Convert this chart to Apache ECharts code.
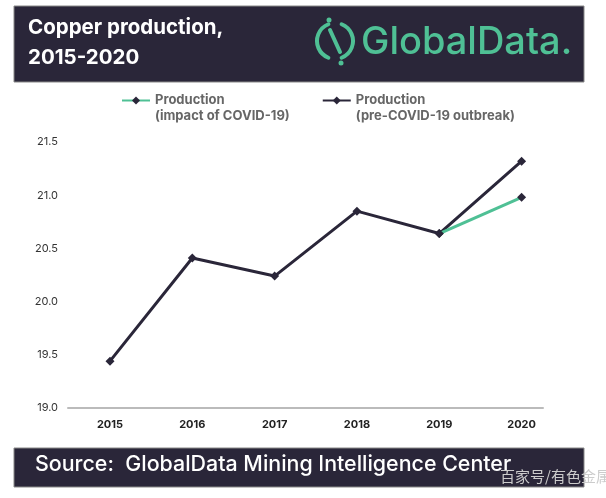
<!DOCTYPE html>
<html>
<head>
<meta charset="utf-8">
<script src="https://cdn.jsdelivr.net/npm/echarts@6/dist/echarts.min.js"></script>
<style>
  html, body { margin: 0; padding: 0; background: #fff; }
  #chart { width: 606px; height: 498px; }
</style>
</head>
<body>
<div id="chart"></div>
<script>
// copper production, million tonnes
var years = [2015, 2016, 2017, 2018, 2019, 2020];
var preCovid = [19.44, 20.41, 20.24, 20.85, 20.64, 21.32];
var covidImpact = [null, null, null, null, 20.64, 20.98];
var yTicks = [19.0, 19.5, 20.0, 20.5, 21.0, 21.5];

var dark = '#2a2639';
var green = '#4fc095';

function pairs(vals) {
  return years.map(function (y, i) { return [y, vals[i]]; });
}

var chart = echarts.init(document.getElementById('chart'));
chart.setOption({
  backgroundColor: '#fff',
  animation: false,
  textStyle: { fontFamily: 'Inter, Roboto, sans-serif' },
  legend: {
    left: 116,
    top: 73,
    itemGap: 32,
    itemWidth: 28,
    itemHeight: 10,
    textStyle: {
      color: '#666', fontSize: 13, fontWeight: 'bold',
      rich: {
        e: { fontSize: 13, lineHeight: 16 },
        a: { color: '#666', fontSize: 13, fontWeight: 'bold', lineHeight: 16 }
      }
    },
    // blank line on top keeps the marker level with "Production"
    formatter: function (name) {
      var p = name.split('\n');
      return '{e| }\n{a|' + p[0] + '}\n{a|' + p[1] + '}';
    },
    data: ['Production\n(impact of COVID-19)', 'Production\n(pre-COVID-19 outbreak)']
  },
  grid: { left: 68, right: 63, top: 142, bottom: 90 },
  xAxis: {
    type: 'value',
    min: 2014.49,
    max: 2020.26,
    splitLine: { show: false },
    axisLine: { show: true, lineStyle: { color: '#bbb', width: 2 } },
    axisTick: { show: false },
    axisLabel: {
      customValues: years,
      color: '#222',
      fontSize: 11,
      fontWeight: 'bold',
      margin: 11,
      formatter: function (v) { return String(v); }
    }
  },
  yAxis: {
    type: 'value',
    min: 19,
    max: 21.5,
    interval: 0.5,
    splitLine: { show: false },
    axisLine: { show: false },
    axisTick: { show: false },
    axisLabel: {
      color: '#333',
      fontSize: 11,
      margin: 10,
      formatter: function (v) { return v.toFixed(1); }
    }
  },
  series: [
    {
      name: 'Production\n(impact of COVID-19)',
      type: 'line',
      data: pairs(covidImpact),
      symbol: 'diamond',
      symbolSize: 9,
      z: 3,
      lineStyle: { color: green, width: 3 },
      itemStyle: { color: dark }
    },
    {
      name: 'Production\n(pre-COVID-19 outbreak)',
      type: 'line',
      data: pairs(preCovid),
      symbol: 'diamond',
      symbolSize: 9,
      z: 2,
      lineStyle: { color: dark, width: 3 },
      itemStyle: { color: dark }
    }
  ],
  graphic: [
    // header band
    { type: 'rect', shape: { x: 14, y: 6, width: 570, height: 76 },
      style: { fill: dark, stroke: '#888', lineWidth: 1 } },
    { type: 'text', left: 28, top: 13,
      style: { text: 'Copper production,\n2015-2020', fill: '#fff', font: 'bold 20.5px Inter, sans-serif', lineHeight: 30 } },
    // logo mark
    { type: 'arc', shape: { cx: 335, cy: 41, r: 18, startAngle: Math.PI * 0.62, endAngle: Math.PI * 1.38 },
      style: { stroke: green, fill: null, lineWidth: 4, lineCap: 'round' } },
    { type: 'arc', shape: { cx: 335, cy: 41, r: 18, startAngle: Math.PI * 1.62, endAngle: Math.PI * 2.38 },
      style: { stroke: green, fill: null, lineWidth: 4, lineCap: 'round' } },
    { type: 'line', shape: { x1: 330, y1: 30, x2: 340, y2: 52 },
      style: { stroke: green, lineWidth: 4, lineCap: 'round' } },
    { type: 'circle', shape: { cx: 329, cy: 20, r: 2.5 }, style: { fill: green } },
    { type: 'circle', shape: { cx: 341, cy: 63, r: 2.5 }, style: { fill: green } },
    { type: 'text', left: 361, top: 24,
      style: { text: 'GlobalData.', fill: green, font: '500 38px Inter, sans-serif' } },
    // footer band
    { type: 'rect', shape: { x: 14, y: 448, width: 570, height: 39 },
      style: { fill: dark, stroke: '#888', lineWidth: 1 } },
    { type: 'text', left: 35, top: 454,
      style: { text: 'Source:  GlobalData Mining Intelligence Center', fill: '#fff', font: '500 21.4px Inter, sans-serif' } },
    { type: 'text', left: 500, top: 469,
      style: { text: '百家号/有色金属', fill: '#ccc', font: '15px "Noto Sans CJK SC", sans-serif' } }
  ]
});
</script>
</body>
</html>
